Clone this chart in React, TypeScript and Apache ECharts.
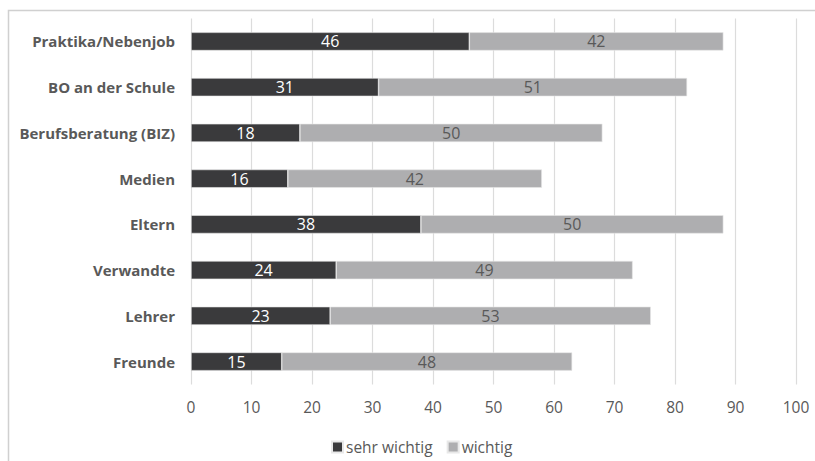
import React, { useEffect, useRef } from "react";
import * as echarts from "echarts";

const categories = [
  "Praktika/Nebenjob",
  "BO an der Schule",
  "Berufsberatung (BIZ)",
  "Medien",
  "Eltern",
  "Verwandte",
  "Lehrer",
  "Freunde",
];
const sehrWichtig = [46, 31, 18, 16, 38, 24, 23, 15];
const wichtig = [42, 51, 50, 42, 50, 49, 53, 48];
const seriesNames = ["sehr wichtig", "wichtig"];

const FONT = "'Open Sans', 'Noto Sans', sans-serif";
const TEXT_GRAY = "#595959";

export default function App() {
  const ref = useRef<HTMLDivElement>(null);

  useEffect(() => {
    document.body.style.margin = "0";
    if (!ref.current) return;
    const chart = echarts.init(ref.current, undefined, { renderer: "svg" });
    chart.setOption({
      animation: false,
      backgroundColor: "#ffffff",
      textStyle: { fontFamily: FONT },
      graphic: [
        {
          type: "rect",
          shape: { x: 8.5, y: 10.5, width: 900, height: 600 },
          style: { fill: "none", stroke: "#d0d0d0", lineWidth: 1.5 },
          silent: true,
          z: -1,
        },
      ],
      grid: { left: 191, right: 19, top: 18.6, bottom: 76.6 },
      legend: {
        left: 326,
        top: 434,
        itemWidth: 11,
        itemHeight: 11,
        itemGap: 14,
        icon: "rect",
        textStyle: { color: TEXT_GRAY, fontSize: 15.5, fontFamily: FONT, padding: [0, 0, 0, -2] },
        data: seriesNames,
      },
      xAxis: {
        type: "value",
        min: 0,
        max: 100,
        interval: 10,
        axisLine: { show: false },
        axisTick: { show: false },
        splitLine: { show: true, lineStyle: { color: "#dcdcdc", width: 1.2 } },
        axisLabel: { color: TEXT_GRAY, fontSize: 15.5, margin: 15, fontFamily: FONT },
      },
      yAxis: {
        type: "category",
        inverse: true,
        data: categories,
        axisLine: { show: false },
        axisTick: { show: false },
        axisLabel: {
          color: TEXT_GRAY,
          fontSize: 15,
          fontWeight: "bold",
          margin: 16,
          fontFamily: FONT,
        },
      },
      series: [
        {
          name: seriesNames[0],
          type: "bar",
          stack: "total",
          data: sehrWichtig,
          barCategoryGap: "60%",
          itemStyle: { color: "#3a3a3c", borderColor: "#e8e8e8", borderWidth: 0.6 },
          label: { show: true, position: "inside", color: "#ffffff", fontSize: 16, fontFamily: FONT },
        },
        {
          name: seriesNames[1],
          type: "bar",
          stack: "total",
          data: wichtig,
          barCategoryGap: "60%",
          itemStyle: { color: "#aeaeb0", borderColor: "#e8e8e8", borderWidth: 0.6 },
          label: { show: true, position: "inside", color: TEXT_GRAY, fontSize: 16, fontFamily: FONT },
        },
      ],
    });
    return () => chart.dispose();
  }, []);

  return <div ref={ref} style={{ width: 815, height: 461 }} />;
}
